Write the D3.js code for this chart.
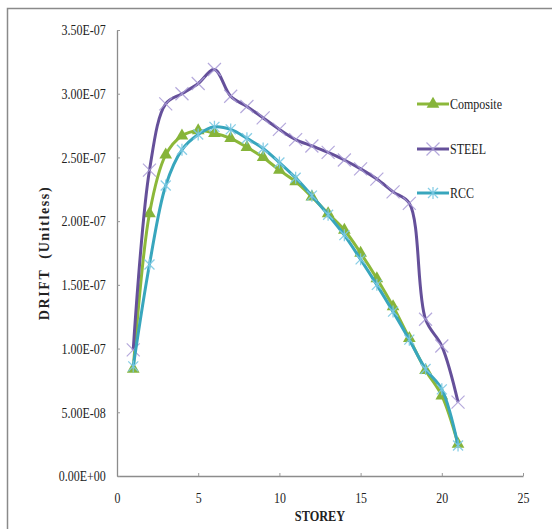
<!DOCTYPE html>
<html>
<head>
<meta charset="utf-8">
<script src="https://cdn.jsdelivr.net/npm/d3@7/dist/d3.min.js"></script>
<style>
  html, body { margin: 0; padding: 0; background: #fff; }
  svg { display: block; }
</style>
</head>
<body>
<svg id="chart" width="552" height="529"></svg>
<script>
// Storey numbers
const storeys = [1, 2, 3, 4, 5, 6, 7, 8, 9, 10, 11, 12, 13, 14, 15, 16, 17, 18, 19, 20, 21];

// Storey drift (unitless) per structural system
const composite = [0.84e-7, 2.06e-7, 2.52e-7, 2.67e-7, 2.71e-7, 2.69e-7, 2.65e-7, 2.58e-7, 2.50e-7, 2.40e-7,
                   2.31e-7, 2.19e-7, 2.06e-7, 1.93e-7, 1.75e-7, 1.55e-7, 1.33e-7, 1.08e-7, 0.83e-7, 0.63e-7, 0.25e-7];
const steel     = [0.99e-7, 2.40e-7, 2.92e-7, 3.00e-7, 3.08e-7, 3.19e-7, 2.98e-7, 2.90e-7, 2.81e-7, 2.72e-7,
                   2.64e-7, 2.59e-7, 2.54e-7, 2.48e-7, 2.41e-7, 2.33e-7, 2.23e-7, 2.14e-7, 1.23e-7, 1.02e-7, 0.58e-7];
const rcc       = [0.86e-7, 1.66e-7, 2.28e-7, 2.56e-7, 2.68e-7, 2.74e-7, 2.72e-7, 2.65e-7, 2.57e-7, 2.46e-7,
                   2.34e-7, 2.20e-7, 2.05e-7, 1.89e-7, 1.70e-7, 1.50e-7, 1.29e-7, 1.07e-7, 0.84e-7, 0.68e-7, 0.24e-7];

// Axis ticks
const xTicks = [0, 5, 10, 15, 20, 25];
const yTicks = [0, 0.5e-7, 1.0e-7, 1.5e-7, 2.0e-7, 2.5e-7, 3.0e-7, 3.5e-7];
const yTickLabels = ["0.00E+00", "5.00E-08", "1.00E-07", "1.50E-07", "2.00E-07", "2.50E-07", "3.00E-07", "3.50E-07"];

const seriesNames = ["Composite", "STEEL", "RCC"];

const series = [
  { name: seriesNames[0], values: composite, line: "#8cb83a", mark: "#86b43a", marker: "triangle" },
  { name: seriesNames[1], values: steel,     line: "#65509a", mark: "#a89ad6", marker: "cross" },
  { name: seriesNames[2], values: rcc,       line: "#38a6bd", mark: "#7cc9e3", marker: "star" }
];

const serif = "Liberation Serif, Times New Roman, serif";
const svg = d3.select("#chart");

// outer frame
svg.append("path")
  .attr("d", "M7.5,529 L7.5,8.5 L552,8.5")
  .attr("fill", "none")
  .attr("stroke", "#8a8a8a")
  .attr("stroke-width", 1.5);

const x = d3.scaleLinear().domain([0, 25]).range([117, 523]);
const y = d3.scaleLinear().domain([0, 3.5e-7]).range([476, 30]);

// x axis
const gx = svg.append("g")
  .attr("transform", `translate(0,${y(0)})`)
  .call(d3.axisBottom(x).tickValues(xTicks).tickSize(0).tickPadding(17).tickFormat(d3.format("d")));
gx.attr("font-family", serif);
gx.select(".domain").attr("stroke", "#8c8c8c").attr("stroke-width", 1.3);
gx.selectAll(".tick text").attr("font-size", 14).attr("fill", "#222")
  .attr("font-family", serif)
  .attr("transform", "scale(0.85,1)");
gx.selectAll(".tick").append("line").attr("y1", 0).attr("y2", -3).attr("stroke", "#999");

// y axis
const gy = svg.append("g")
  .attr("transform", `translate(${x(0)},0)`)
  .call(d3.axisLeft(y).tickValues(yTicks).tickSize(0).tickPadding(14)
    .tickFormat((d, i) => yTickLabels[i]));
gy.attr("font-family", serif);
gy.select(".domain").attr("stroke", "#8c8c8c").attr("stroke-width", 1.3);
gy.selectAll(".tick text").attr("font-size", 15).attr("fill", "#222")
  .attr("font-family", serif)
  .attr("transform", "scale(0.8,1)");
gy.selectAll(".tick").append("line").attr("x1", 0).attr("x2", 3).attr("stroke", "#999");

// axis titles
svg.append("text")
  .attr("x", x(12.5)).attr("y", 521)
  .attr("text-anchor", "middle")
  .attr("font-family", serif)
  .attr("font-weight", "bold")
  .attr("font-size", 14)
  .attr("fill", "#222")
  .attr("transform", `translate(${x(12.5) * 0.12},0) scale(0.88,1)`)
  .text("STOREY");

svg.append("text")
  .attr("transform", "translate(49,253) rotate(-90)")
  .attr("text-anchor", "middle")
  .attr("font-family", serif)
  .attr("font-weight", "bold")
  .attr("font-size", 14)
  .attr("letter-spacing", 1.6)
  .attr("fill", "#222")
  .attr("xml:space", "preserve")
  .text("DRIFT  (Unitless)");

// marker shapes
function drawMarker(g, type, color, cx, cy) {
  if (type === "triangle") {
    g.append("path")
      .attr("d", d3.symbol().type(d3.symbolTriangle).size(70)())
      .attr("transform", `translate(${cx},${cy})`)
      .attr("fill", color);
  } else if (type === "cross") {
    const r = 6.5;
    g.append("path")
      .attr("d", `M${cx - r},${cy - r}L${cx + r},${cy + r}M${cx - r},${cy + r}L${cx + r},${cy - r}`)
      .attr("stroke", color).attr("stroke-width", 1.2).attr("fill", "none").attr("opacity", 0.85);
  } else {
    const r = 5;
    g.append("path")
      .attr("d", `M${cx - r},${cy - r}L${cx + r},${cy + r}M${cx - r},${cy + r}L${cx + r},${cy - r}M${cx},${cy - r - 1}L${cx},${cy + r + 1}`)
      .attr("stroke", color).attr("stroke-width", 1.3).attr("fill", "none").attr("opacity", 0.9);
  }
}

const lineGen = d3.line()
  .x((d, i) => x(storeys[i]))
  .y(d => y(d))
  .curve(d3.curveCatmullRom.alpha(0.5));

const plot = svg.append("g");
series.forEach(s => {
  const g = plot.append("g");
  g.append("path")
    .attr("d", lineGen(s.values))
    .attr("fill", "none")
    .attr("stroke", s.line)
    .attr("stroke-width", 3)
    .attr("stroke-linejoin", "round");
  s.values.forEach((v, i) => drawMarker(g, s.marker, s.mark, x(storeys[i]), y(v)));
});

// legend
const legendY = [104, 149, 193];
const legend = svg.append("g");
series.forEach((s, i) => {
  const ly = legendY[i];
  legend.append("line")
    .attr("x1", 417).attr("x2", 449).attr("y1", ly).attr("y2", ly)
    .attr("stroke", s.line).attr("stroke-width", 3);
  drawMarker(legend, s.marker, s.mark, 433, ly);
  legend.append("text")
    .attr("x", 450).attr("y", ly + 5)
    .attr("font-family", serif)
    .attr("font-size", 15)
    .attr("fill", "#222")
    .attr("transform", `translate(${450 * 0.2},0) scale(0.8,1)`)
    .text(s.name);
});
</script>
</body>
</html>
